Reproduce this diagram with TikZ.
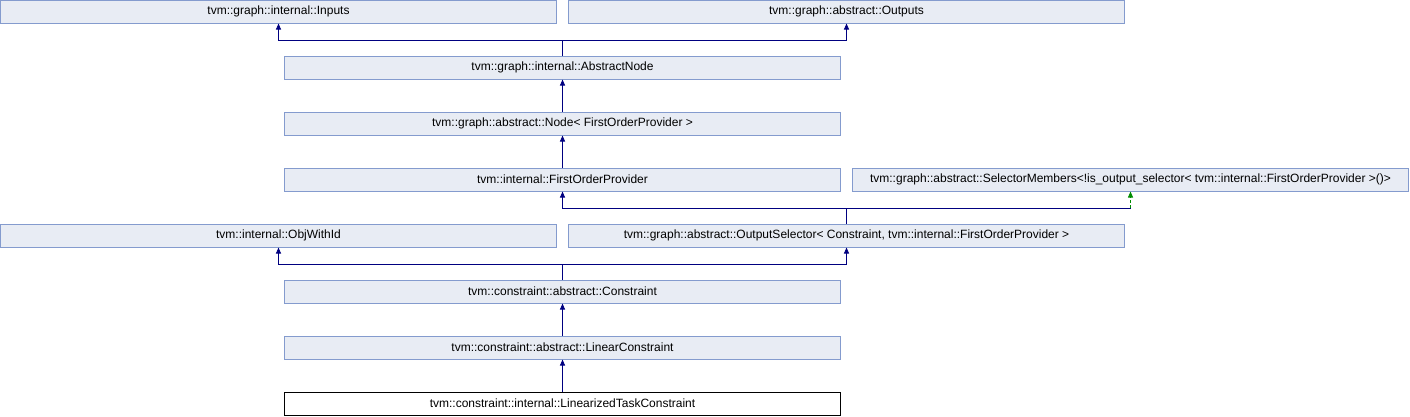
\documentclass[tikz,border=0pt]{standalone}
\usepackage{fontspec}
\setmainfont{Liberation Sans}
\usetikzlibrary{arrows.meta}
\definecolor{boxfill}{RGB}{232,236,244}
\definecolor{boxline}{RGB}{132,155,206}
\definecolor{inhcol}{RGB}{0,0,128}
\definecolor{tplcol}{RGB}{0,140,0}
\tikzset{
  cls/.style={draw=boxline, fill=boxfill, line width=1pt, inner sep=0pt,
    minimum height=23pt, anchor=center, font=\fontsize{12}{14}\selectfont},
  wide/.style={minimum width=556pt},
  cur/.style={cls, draw=black, fill=white},
  inh/.style={draw=inhcol, line width=0.9pt, -{Triangle[width=5pt,length=6pt]}},
  inhline/.style={draw=inhcol, line width=0.9pt},
  tpl/.style={draw=tplcol, line width=0.9pt, dashed, dash pattern=on 3pt off 2pt, -{Triangle[width=5pt,length=6pt,fill=tplcol]}},
}
\begin{document}
\begin{tikzpicture}[x=1pt,y=1pt]
\useasboundingbox (0,0) rectangle (1410,-416);
\node[cls,wide] (in)  at (278.5,-11.5) {tvm::graph::internal::Inputs};
\node[cls,wide] (out) at (846.5,-11.5) {tvm::graph::abstract::Outputs};
\node[cls,wide] (an)  at (562.5,-67.5) {tvm::graph::internal::AbstractNode};
\node[cls,wide] (nd)  at (562.5,-123.5) {tvm::graph::abstract::Node< FirstOrderProvider >};
\node[cls,wide] (fop) at (562.5,-179.5) {tvm::internal::FirstOrderProvider};
\node[cls,wide] (sm)  at (1130.5,-179.5) {tvm::graph::abstract::SelectorMembers<!is\_output\_selector< tvm::internal::FirstOrderProvider >()>};
\node[cls,wide] (obj) at (278.5,-235.5) {tvm::internal::ObjWithId};
\node[cls,wide] (os)  at (846.5,-235.5) {tvm::graph::abstract::OutputSelector< Constraint, tvm::internal::FirstOrderProvider >};
\node[cls,wide] (con) at (562.5,-291.5) {tvm::constraint::abstract::Constraint};
\node[cls,wide] (lc)  at (562.5,-347.5) {tvm::constraint::abstract::LinearConstraint};
\node[cur,wide] (ltc) at (562.5,-403.5) {tvm::constraint::internal::LinearizedTaskConstraint};
\coordinate (j1) at (562.5,-40);
\coordinate (j2) at (846.5,-208);
\coordinate (j3) at (562.5,-264);
\draw[inhline] (an.north) -- (j1);
\draw[inh] (j1) -| (in.south);
\draw[inh] (j1) -| (out.south);
\draw[inh] (nd.north) -- (an.south);
\draw[inh] (fop.north) -- (nd.south);
\draw[inhline] (os.north) -- (j2);
\draw[inh] (j2) -| (fop.south);
\draw[inhline] (j2) -- (sm.south |- j2);
\draw[tpl] (sm.south |- j2) -- (sm.south);
\draw[inhline] (con.north) -- (j3);
\draw[inh] (j3) -| (obj.south);
\draw[inh] (j3) -| (os.south);
\draw[inh] (lc.north) -- (con.south);
\draw[inh] (ltc.north) -- (lc.south);
\end{tikzpicture}
\end{document}
